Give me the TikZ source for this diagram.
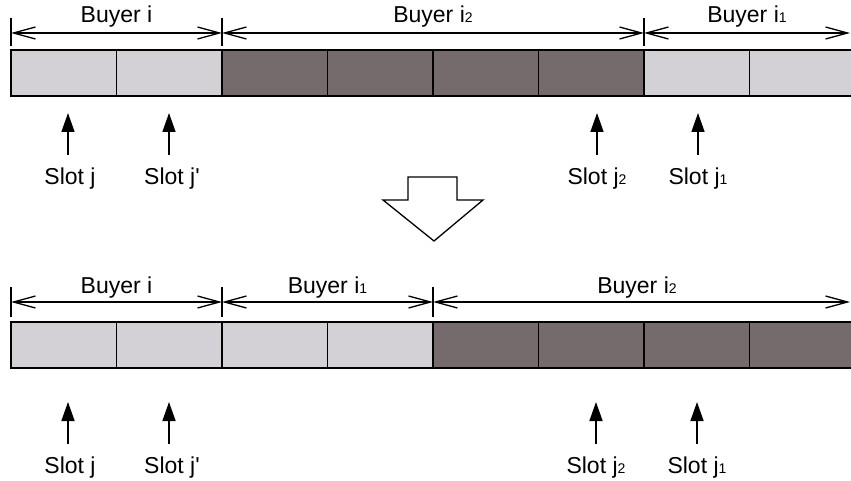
\documentclass[tikz,border=0pt]{standalone}
\usepackage{fontspec}
\setmainfont{Liberation Sans}
\usetikzlibrary{arrows.meta}
\definecolor{lightcell}{RGB}{211,208,214}
\definecolor{darkcell}{RGB}{117,107,108}
\tikzset{
  cell/.style={draw=black, line width=1.4pt, minimum width=105.5pt, minimum height=46pt, inner sep=0pt, outer sep=0pt, anchor=north west},
  lcell/.style={cell, fill=lightcell},
  dcell/.style={cell, fill=darkcell},
  barb/.tip={Straight Barb[length=22pt,width=12pt,line width=1.3pt]},
  dim/.style={line width=1.2pt, barb-barb},
  tickline/.style={line width=1.3pt},
  slotarrow/.style={line width=1.5pt, -{Triangle[length=19pt,width=13pt]}},
  lbl/.style={font=\fontsize{23}{23}\selectfont, inner sep=0pt, anchor=base},
  bigarrow/.style={draw=black, line width=1.3pt, fill=white, line join=miter},
}
\newcommand{\smalldigit}[1]{{\fontsize{14}{14}\selectfont #1}}
\begin{document}
\begin{tikzpicture}[x=1pt,y=-1pt]
\useasboundingbox (0,0) rectangle (851,481);
% ---------- top bar ----------
\node[lcell] (t1) at (11,50) {};
\node[lcell] (t2) at (116.5,50) {};
\node[dcell] (t3) at (222,50) {};
\node[dcell] (t4) at (327.5,50) {};
\node[dcell] (t5) at (433,50) {};
\node[dcell] (t6) at (538.5,50) {};
\node[lcell] (t7) at (644,50) {};
\node[lcell] (t8) at (749.5,50) {};
% ticks top
\coordinate (ta0) at (11,18);  \coordinate (tb0) at (11,46);
\coordinate (ta1) at (222,18); \coordinate (tb1) at (222,46);
\coordinate (ta2) at (644,18); \coordinate (tb2) at (644,46);
\draw[tickline] (ta0) -- (tb0);
\draw[tickline] (ta1) -- (tb1);
\draw[tickline] (ta2) -- (tb2);
\coordinate (td0) at (11,33);
\coordinate (td1) at (222,33);
\coordinate (td2) at (644,33);
\coordinate (td3) at (850,33);
\draw[dim] (td0) -- (td1);
\draw[dim] (td1) -- (td2);
\draw[dim] (td2) -- (td3);
\node[lbl] (tl1) at (116.5,23) {Buyer i};
\node[lbl] (tl2) at (433,23) {Buyer i\smalldigit{2}};
\node[lbl] (tl3) at (747,23) {Buyer i\smalldigit{1}};
% slot arrows top
\coordinate (ts1) at (68,155);  \coordinate (th1) at (68,113);
\coordinate (ts2) at (169,155); \coordinate (th2) at (169,113);
\coordinate (ts3) at (597,155); \coordinate (th3) at (597,113);
\coordinate (ts4) at (698,155); \coordinate (th4) at (698,113);
\draw[slotarrow] (ts1) -- (th1);
\draw[slotarrow] (ts2) -- (th2);
\draw[slotarrow] (ts3) -- (th3);
\draw[slotarrow] (ts4) -- (th4);
\node[lbl] (tsl1) at (70,185) {Slot j};
\node[lbl] (tsl2) at (172,185) {Slot j\textquotesingle};
\node[lbl] (tsl3) at (597,185) {Slot j\smalldigit{2}};
\node[lbl] (tsl4) at (698,185) {Slot j\smalldigit{1}};
% ---------- big down arrow ----------
\draw[bigarrow] (408,177) -- (457,177) -- (457,200) -- (483,200) -- (434,241) -- (383,200) -- (408,200) -- cycle;
% ---------- bottom bar ----------
\node[lcell] (b1) at (11,322) {};
\node[lcell] (b2) at (116.5,322) {};
\node[lcell] (b3) at (222,322) {};
\node[lcell] (b4) at (327.5,322) {};
\node[dcell] (b5) at (433,322) {};
\node[dcell] (b6) at (538.5,322) {};
\node[dcell] (b7) at (644,322) {};
\node[dcell] (b8) at (749.5,322) {};
\coordinate (ba0) at (11,287);  \coordinate (bb0) at (11,317);
\coordinate (ba1) at (222,287); \coordinate (bb1) at (222,317);
\coordinate (ba2) at (433,287); \coordinate (bb2) at (433,317);
\draw[tickline] (ba0) -- (bb0);
\draw[tickline] (ba1) -- (bb1);
\draw[tickline] (ba2) -- (bb2);
\coordinate (bd0) at (11,302);
\coordinate (bd1) at (222,302);
\coordinate (bd2) at (433,302);
\coordinate (bd3) at (850,302);
\draw[dim] (bd0) -- (bd1);
\draw[dim] (bd1) -- (bd2);
\draw[dim] (bd2) -- (bd3);
\node[lbl] (bl1) at (116.5,293) {Buyer i};
\node[lbl] (bl2) at (327.5,293) {Buyer i\smalldigit{1}};
\node[lbl] (bl3) at (637,293) {Buyer i\smalldigit{2}};
% slot arrows bottom
\coordinate (bs1) at (68,444);  \coordinate (bh1) at (68,402);
\coordinate (bs2) at (169,444); \coordinate (bh2) at (169,402);
\coordinate (bs3) at (596,444); \coordinate (bh3) at (596,402);
\coordinate (bs4) at (697,444); \coordinate (bh4) at (697,402);
\draw[slotarrow] (bs1) -- (bh1);
\draw[slotarrow] (bs2) -- (bh2);
\draw[slotarrow] (bs3) -- (bh3);
\draw[slotarrow] (bs4) -- (bh4);
\node[lbl] (bsl1) at (70,473) {Slot j};
\node[lbl] (bsl2) at (172,473) {Slot j\textquotesingle};
\node[lbl] (bsl3) at (596,473) {Slot j\smalldigit{2}};
\node[lbl] (bsl4) at (697,473) {Slot j\smalldigit{1}};
\end{tikzpicture}
\end{document}
